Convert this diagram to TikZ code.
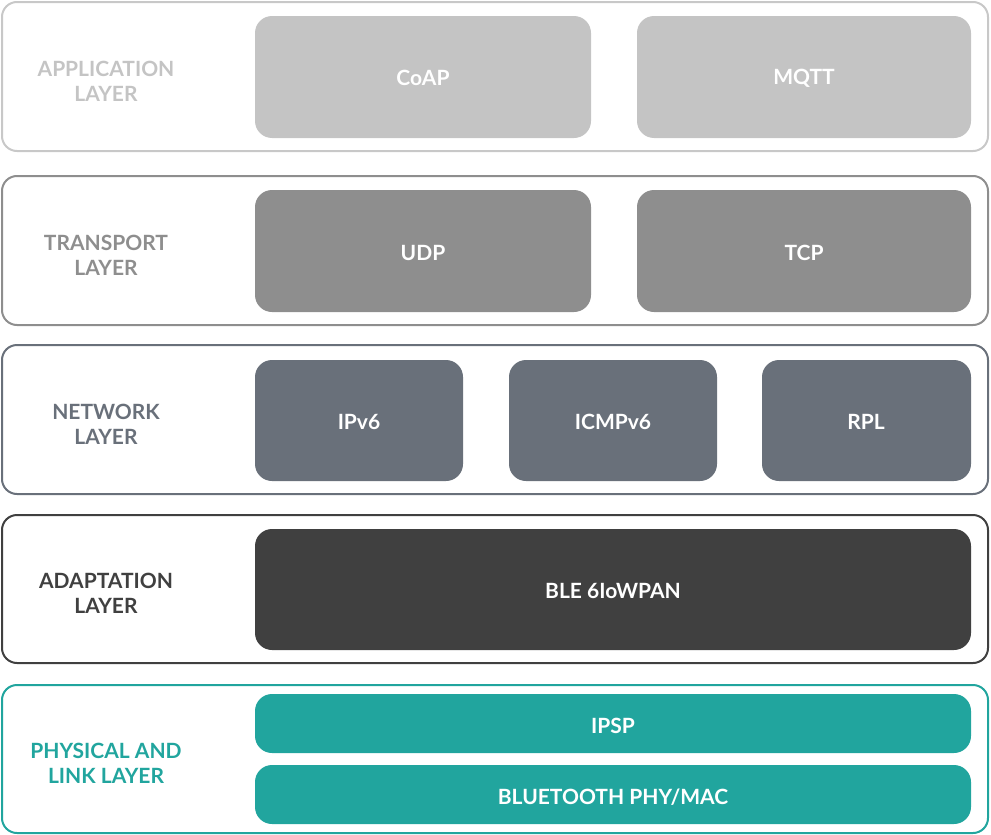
\documentclass[tikz,border=0pt]{standalone}
\usepackage{fontspec}
\setmainfont{Lato}[UprightFont=* Bold]
\definecolor{appc}{HTML}{C4C4C4}
\definecolor{appb}{HTML}{C8C8C8}
\definecolor{trc}{HTML}{8E8E8E}
\definecolor{netc}{HTML}{69707A}
\definecolor{adc}{HTML}{404040}
\definecolor{phc}{HTML}{21A59E}
\begin{document}
\begin{tikzpicture}[x=1pt,y=-1pt,
  layerbox/.style={draw=#1,line width=2pt,rounded corners=15pt},
  proto/.style={fill=#1,rounded corners=17pt},
  ptext/.style={text=white,font=\fontsize{21}{25}\selectfont},
  ltext/.style={text=#1,font=\fontsize{21}{25}\selectfont,align=center}]
\useasboundingbox (0,0) rectangle (991,835);
% layers
\draw[layerbox=appb] (2,2) rectangle (988,151);
\draw[layerbox=trc] (2,176) rectangle (988,325);
\draw[layerbox=netc] (2,345) rectangle (988,494);
\draw[layerbox=adc] (2,515) rectangle (988,663);
\draw[layerbox=phc] (2,685) rectangle (988,833);
% labels
\node[ltext=appc] (lapp) at (106,81.5) {APPLICATION\\LAYER};
\node[ltext=trc] (ltr) at (106,255.5) {TRANSPORT\\LAYER};
\node[ltext=netc] (lnet) at (106,424.5) {NETWORK\\LAYER};
\node[ltext=adc] (lad) at (106,593.5) {ADAPTATION\\LAYER};
\node[ltext=phc] (lph) at (106,763.5) {PHYSICAL AND\\LINK LAYER};
% protocol boxes
\fill[proto=appc] (255,16) rectangle (591,138);
\node[ptext] (coap) at (423,78) {CoAP};
\fill[proto=appc] (637,16) rectangle (971,138);
\node[ptext] (mqtt) at (804,78) {MQTT};
\fill[proto=trc] (255,190) rectangle (591,312);
\node[ptext] (udp) at (423,253) {UDP};
\fill[proto=trc] (637,190) rectangle (971,312);
\node[ptext] (tcp) at (804,253) {TCP};
\fill[proto=netc] (255,360) rectangle (463,481);
\node[ptext] (ipv6) at (359,422) {IPv6};
\fill[proto=netc] (509,360) rectangle (717,481);
\node[ptext] (icmp) at (613,422) {ICMPv6};
\fill[proto=netc] (762,360) rectangle (971,481);
\node[ptext] (rpl) at (866,422) {RPL};
\fill[proto=adc] (255,529) rectangle (971,650);
\node[ptext] (ble) at (613,591) {BLE 6IoWPAN};
\fill[proto=phc] (255,694) rectangle (971,753);
\node[ptext] (ipsp) at (613,726) {IPSP};
\fill[proto=phc] (255,765) rectangle (971,824);
\node[ptext] (bt) at (613,797) {BLUETOOTH PHY/MAC};
\end{tikzpicture}
\end{document}
